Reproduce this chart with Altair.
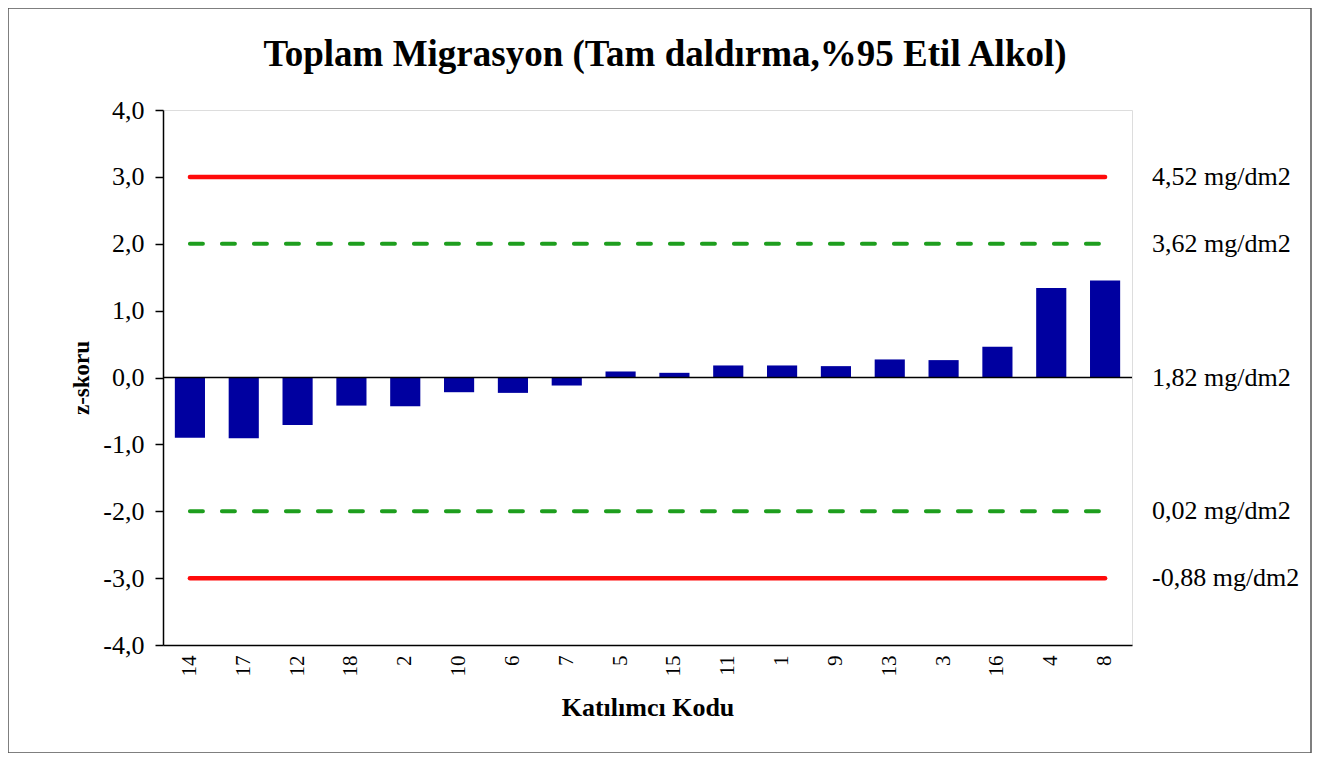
import altair as alt
import pandas as pd

# ---- data ----
codes = ["14", "17", "12", "18", "2", "10", "6", "7", "5", "15", "11", "1", "9", "13", "3", "16", "4", "8"]
z_scores = [-0.90, -0.91, -0.71, -0.42, -0.43, -0.22, -0.23, -0.12, 0.09, 0.07,
            0.18, 0.18, 0.17, 0.27, 0.26, 0.46, 1.34, 1.45]
action_levels = [3.0, -3.0]
warning_levels = [2.0, -2.0]
right_values = [3.0, 2.0, 0.0, -2.0, -3.0]
right_texts = ["4,52 mg/dm2", "3,62 mg/dm2", "1,82 mg/dm2", "0,02 mg/dm2", "-0,88 mg/dm2"]
y_ticks = [-4, -3, -2, -1, 0, 1, 2, 3, 4]
chart_title = ["Toplam Migrasyon (Tam daldırma,%95 Etil Alkol)"]

SERIF = "Liberation Serif"

bars_df = pd.DataFrame({"code": codes, "z": z_scores})
action_df = pd.DataFrame([{"code": c, "level": l} for l in action_levels for c in codes])
warning_df = pd.DataFrame([{"code": c, "level": l} for l in warning_levels for c in codes])
right_df = pd.DataFrame({"v": right_values, "t": right_texts})
title_df = pd.DataFrame({"t": chart_title})
frame_df = pd.DataFrame({"f": [0]})

x_enc = alt.X(
    "code:N",
    sort=codes,
    scale=alt.Scale(paddingInner=0.44, paddingOuter=0.22),
    axis=alt.Axis(
        title="Katılımcı Kodu",
        labelAngle=270,
        labelFont=SERIF,
        labelFontSize=21,
        labelColor="black",
        labelPadding=10,
        ticks=False,
        domainColor="black",
        domainWidth=1.5,
        titleFont=SERIF,
        titleFontSize=26,
        titleFontWeight="bold",
        titleColor="black",
        titlePadding=18,
    ),
)

y_scale = alt.Scale(domain=[-4, 4], nice=False)

bars = alt.Chart(bars_df).mark_bar(color="#0000A0").encode(
    x=x_enc,
    y=alt.Y(
        "z:Q",
        scale=y_scale,
        axis=alt.Axis(
            title="z-skoru",
            values=y_ticks,
            labelExpr="(datum.value < 0 ? '-' : '') + replace(format(abs(datum.value), '.1f'), '.', ',')",
            labelFont=SERIF,
            labelFontSize=26,
            labelColor="black",
            labelPadding=11,
            tickSize=8,
            tickColor="black",
            tickWidth=1.5,
            domainColor="black",
            domainWidth=1.5,
            grid=False,
            titleFont=SERIF,
            titleFontSize=23,
            titleFontWeight="bold",
            titleColor="black",
            titlePadding=9,
        ),
    ),
)

zero_rule = alt.Chart(frame_df).mark_rule(color="black", strokeWidth=1.5).encode(
    y=alt.datum(0)
)

action_lines = alt.Chart(action_df).mark_line(
    color="#FF0A0A", strokeWidth=4.5, strokeCap="round"
).encode(
    x=alt.X("code:N", sort=codes),
    y=alt.Y("level:Q", scale=y_scale),
    detail="level:N",
)

warning_lines = alt.Chart(warning_df).mark_line(
    color="#1E9E1E", strokeWidth=4, strokeCap="round", strokeDash=[13, 19]
).encode(
    x=alt.X("code:N", sort=codes),
    y=alt.Y("level:Q", scale=y_scale),
    detail="level:N",
)

right_labels = alt.Chart(right_df).mark_text(
    align="left", baseline="middle", font=SERIF, fontSize=26, color="black", x=989
).encode(
    y=alt.Y("v:Q", scale=y_scale),
    text="t:N",
)

title_text = alt.Chart(title_df).mark_text(
    align="center", baseline="alphabetic", font=SERIF, fontSize=37,
    fontWeight="bold", color="black", x=502, y=-44,
).encode(text="t:N")

outer_frame = alt.Chart(frame_df).mark_rect(
    fillOpacity=0, stroke="#555555", strokeWidth=1.5, clip=False
).encode(
    x=alt.value(-155), x2=alt.value(1148), y=alt.value(-102), y2=alt.value(643)
)

chart = alt.layer(
    outer_frame, bars, zero_rule, action_lines, warning_lines, right_labels, title_text
).properties(
    width=969,
    height=535,
    padding={"left": 155, "top": 102, "right": 180, "bottom": 108},
    autosize=alt.AutoSizeParams(type="none"),
).configure_view(
    stroke="black", strokeWidth=1.5
).configure(background="white")

chart.save("out.html", embed_options={"renderer": "svg", "actions": False})
